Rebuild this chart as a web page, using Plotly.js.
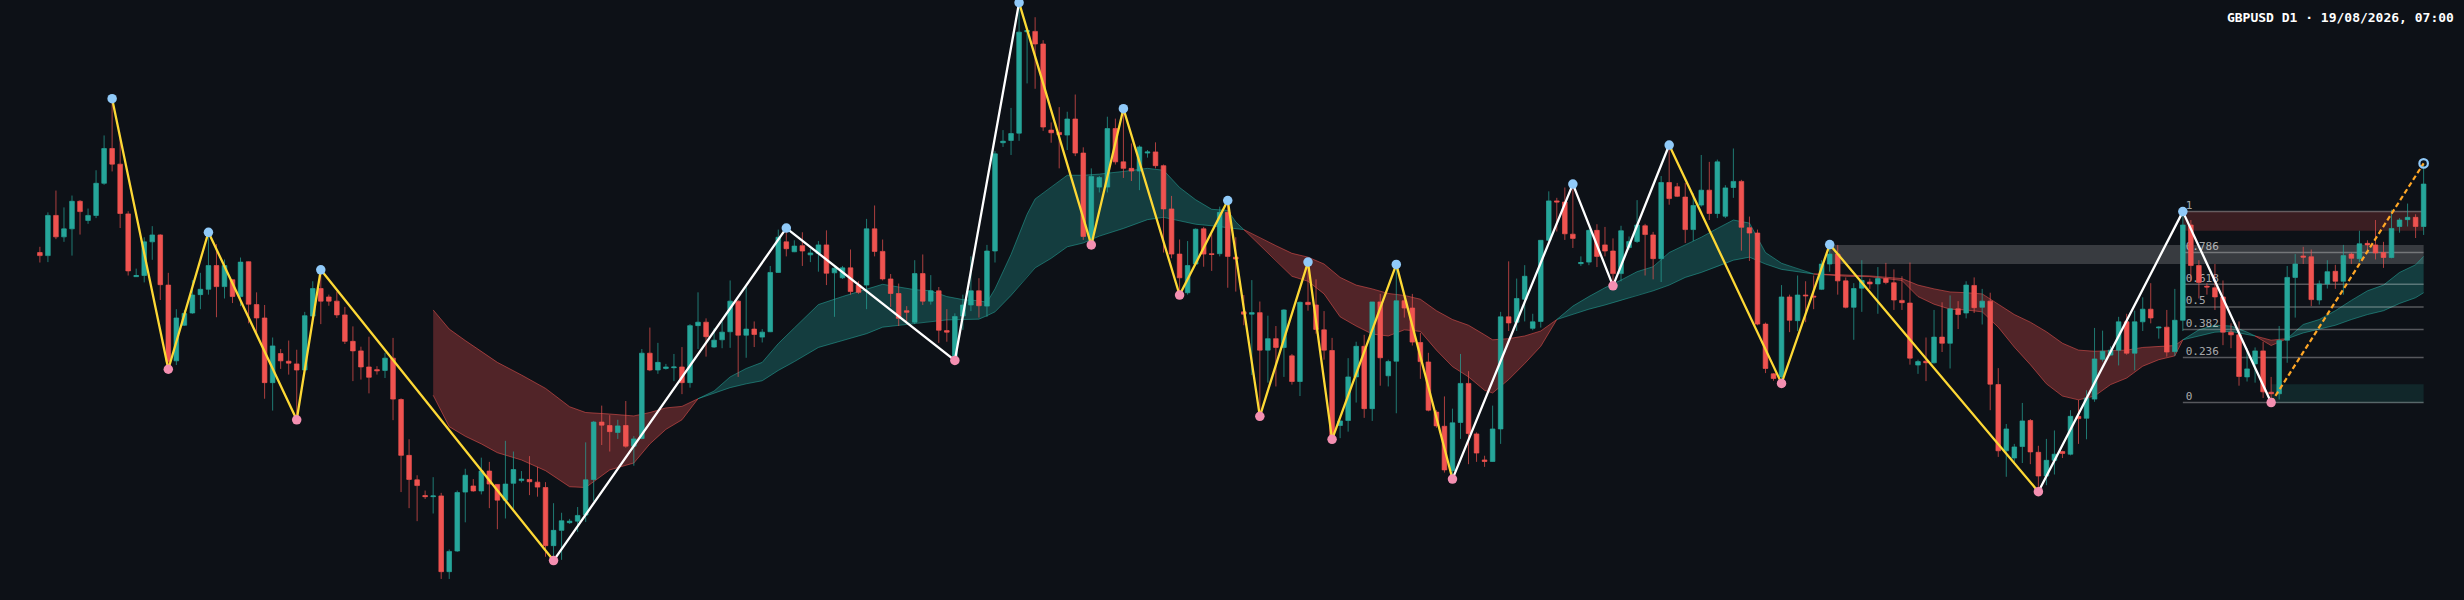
<!DOCTYPE html>
<html>
<head>
<meta charset="utf-8">
<script src="https://cdn.plot.ly/plotly-3.0.1.min.js"></script>
<style>html,body{margin:0;padding:0;background:#0d1117}</style>
</head>
<body>
<div id="chart" style="width:2464px;height:600px"></div>
<script>
/***** daily candles, prices in pips above an arbitrary base *****/
var openPrices = [
  908,900,1005,949,970,1042,992,1005,1089,1180,
  1139,1009,845,848,936,954,823,625,718,750,
  798,812,874,819,837,793,884,772,737,568,
  644,624,617,601,742,814,792,781,745,676,
  651,609,602,600,632,524,378,314,273,270,
  272,74,128,282,298,285,337,302,261,305,
  312,315,308,294,142,182,202,206,222,315,
  465,456,438,456,402,422,645,601,605,607,
  609,568,717,726,661,680,701,781,692,708,
  687,701,856,936,910,926,902,906,928,855,
  842,868,823,823,970,911,839,801,756,726,
  853,781,808,704,633,742,771,808,768,912,
  1195,1201,1220,1485,1486,1453,1228,1222,1215,1257,
  1168,938,1079,1079,1232,1145,1128,1121,1168,1171,
  1135,1022,904,803,878,970,905,905,1013,896,
  753,747,751,653,683,660,638,571,778,771,
  706,652,456,469,583,663,500,779,586,624,
  782,763,673,622,491,454,338,464,566,434,
  366,362,447,740,726,786,710,728,940,1043,
  1040,956,879,883,966,928,912,853,921,937,
  978,954,892,1091,1080,1053,968,1032,1071,1010,
  1003,1078,1094,973,959,721,591,583,792,730,
  797,794,812,878,904,834,765,815,831,826,
  840,829,783,776,614,624,620,687,671,761,
  750,822,765,781,563,390,371,401,469,386,
  324,365,388,381,480,475,525,629,640,653,
  727,645,727,760,711,713,649,731,980,874,
  820,816,792,700,693,583,617,651,543,539,
  679,843,899,897,784,826,859,833,904,892,
  932,928,908,895,976,994,1000,976
];
var highPrices = [
  923,1013,1070,1026,1057,1045,1023,1123,1214,1310,
  1208,1016,866,948,977,956,855,760,758,836,
  855,961,930,890,838,895,885,804,771,686,
  656,678,654,753,833,863,798,806,766,715,
  662,688,611,646,685,527,420,326,286,321,
  280,132,286,343,316,372,361,303,416,388,
  337,376,348,308,253,228,212,243,412,468,
  508,483,471,520,428,656,712,672,617,643,
  661,721,804,736,710,728,835,783,818,728,
  708,873,968,972,940,961,918,938,966,873,
  873,916,833,996,1031,942,852,827,768,888,
  903,849,818,760,749,798,898,841,928,1173,
  1228,1286,1561,1492,1523,1463,1248,1288,1276,1321,
  1183,1128,1108,1263,1258,1284,1193,1188,1176,1196,
  1138,1056,942,938,971,975,956,1028,1044,948,
  797,836,780,743,716,760,643,780,883,838,
  755,685,468,632,675,693,779,800,628,877,
  798,800,698,646,496,532,500,643,598,438,
  377,508,753,885,840,875,748,940,1068,1051,
  1078,1087,898,968,982,975,945,978,950,1045,
  983,962,1108,1189,1090,1090,1063,1163,1145,1151,
  1084,1180,1098,1002,968,725,593,823,798,848,
  833,848,888,929,928,843,828,888,840,870,
  881,864,846,882,628,686,758,778,796,781,
  833,843,813,803,606,460,408,515,473,403,
  421,443,390,496,523,548,711,704,663,740,
  748,756,791,828,715,758,813,1015,993,888,
  828,878,835,723,728,658,660,675,583,716,
  873,904,923,916,835,888,876,928,908,965,
  940,993,936,1020,998,1036,1008,1141
];
var lowPrices = [
  882,883,943,936,900,955,983,998,1085,1120,
  972,848,845,830,889,784,603,614,716,748,
  760,798,739,788,776,768,723,698,526,495,
  604,589,471,600,740,721,769,737,669,572,
  576,540,589,580,470,282,240,206,264,226,
  55,55,126,203,283,276,240,185,213,238,
  307,274,270,113,103,105,199,178,204,258,
  405,388,421,398,351,420,598,591,602,572,
  538,555,656,636,659,658,659,583,633,661,
  673,700,855,898,909,873,883,858,823,740,
  839,798,800,760,898,835,766,716,728,721,
  771,772,672,675,626,706,755,738,740,882,
  1184,1163,1200,1350,1336,1226,1195,1128,1176,1160,
  941,928,1065,1065,1138,1103,1095,1071,1156,1128,
  908,893,797,798,876,871,860,898,816,806,
  718,588,480,568,558,583,563,533,756,696,
  628,420,423,440,516,476,468,560,558,488,
  738,665,578,493,450,333,316,421,355,361,
  348,361,408,703,703,728,705,712,938,963,
  941,920,873,875,870,898,821,833,915,933,
  848,838,831,1033,1053,933,938,1028,993,998,
  998,1051,913,886,718,593,573,566,700,703,
  726,760,810,858,798,762,680,753,813,748,
  825,758,758,615,591,572,618,648,605,708,
  736,750,720,496,374,322,358,358,355,283,
  300,328,371,378,408,420,518,623,638,613,
  641,600,703,723,683,636,638,703,833,788,
  798,758,666,658,560,571,568,528,516,524,
  620,738,878,768,772,814,813,798,878,883,
  908,890,868,893,960,976,946,954
];
var closePrices = [
  900,1005,949,970,1042,1015,1005,1089,1180,1139,
  1010,860,848,936,954,824,623,737,749,797,
  812,874,819,874,793,883,773,737,568,664,
  625,619,601,743,814,781,781,745,676,651,
  609,582,599,632,525,378,315,299,270,272,
  74,127,281,326,285,337,303,261,303,341,
  316,309,295,142,182,207,206,221,314,465,
  457,440,455,402,421,645,601,621,609,609,
  568,717,726,688,679,700,781,692,708,694,
  700,856,948,918,925,912,907,928,854,867,
  868,806,804,970,911,839,801,736,752,853,
  781,808,705,700,741,771,808,769,912,1166,
  1199,1219,1484,1488,1453,1236,1221,1216,1257,1168,
  950,1107,1104,1232,1145,1128,1121,1184,1171,1135,
  1022,904,842,874,969,904,903,1013,898,891,
  747,751,653,683,660,758,571,778,772,707,
  653,428,468,583,663,500,779,633,623,782,
  763,674,623,496,455,340,463,566,435,384,
  362,447,740,724,788,846,727,940,1043,1040,
  957,945,882,966,898,912,853,965,937,980,
  955,892,1091,1049,1055,968,1031,1071,1010,1145,
  1077,1094,974,959,721,605,579,792,731,797,
  795,792,878,904,834,765,814,835,826,840,
  830,784,777,632,623,620,687,671,761,746,
  823,764,781,564,390,447,400,468,387,324,
  365,381,383,480,474,528,630,650,653,727,
  645,727,760,737,713,648,731,980,874,830,
  818,792,700,693,584,604,651,544,539,678,
  843,878,896,785,826,858,833,900,893,931,
  928,907,895,971,993,1000,976,1087
];

/***** moving average ribbon *****/
var bandBars = [
  49,51,53,55,57,60,63,66,68,71,74,76,78,80,82,
  84,86,88,90,92,94,97,100,103,105,107,109,111,113,115,117,118,119,121,123,124,126,128,130,132,135,138,140,142,144,146,148,149,150,
  152,154,156,158,160,162,164,166,168,170,172,174,176,178,180,181,183,185,187,189,
  191,193,195,197,199,201,203,205,207,209,211,213,215,217,219,221,
  225,228,232,234,236,238,240,242,244,246,248,250,252,254,256,258,260,262,264,266,267,
  269,271,273,275,276,
  278,280,
  282,284,286,288,290,292,294,296,297
];
var bandFast = [
  535,453,428,408,385,366,338,296,294,340,358,408,446,471,526,
  546,583,605,621,670,711,772,793,813,825,818,811,808,793,785,782,778,813,903,1008,1048,1078,1110,1110,1113,1120,1128,1123,1078,1046,1021,1018,988,968,
  928,888,846,833,800,740,716,695,690,706,702,653,610,583,548,541,576,618,663,733,
  768,793,816,836,858,871,908,928,948,971,993,985,908,880,865,852,
  846,845,835,793,773,760,758,753,713,661,615,565,533,523,533,563,580,611,628,638,680,
  706,718,716,700,690,
  665,683,
  720,733,756,783,808,823,856,876,898
];
var bandSlow = [
  758,708,678,650,621,588,553,505,490,486,481,490,502,506,526,
  540,555,565,573,600,623,660,678,696,713,718,723,728,732,733,734,743,753,796,846,868,893,923,933,951,971,994,1000,991,982,978,973,970,968,
  946,926,906,896,878,843,823,813,801,796,786,756,733,718,693,680,683,690,703,733,
  747,760,771,783,797,808,823,843,856,871,888,896,878,864,858,852,
  850,847,840,823,813,805,803,800,773,746,726,701,671,653,650,651,653,660,663,665,680,
  690,700,702,694,690,
  679,683,
  698,708,718,733,746,756,775,790,803
];

/***** zigzag legs, bar numbers of the swing points *****/
var yellowLegs = [[9,16,21,32,35,64],[122,131,135,142,148,152,158,161,169,176],[203,217,223,249]];
var whiteLegs = [[64,93,114,122],[176,191,196,203],[249,267,278]];
var projectedLeg = [278,297];
var swingHighs = [9,21,35,93,122,135,148,158,169,191,203,223,267];
var swingLows = [16,32,64,114,131,142,152,161,176,196,217,249,278];
var openSwing = [297];

/***** fibonacci levels and zones *****/
var fibLabels = ['0','0.236','0.382','0.5','0.618','0.786','1'];
var fibPrices = [516,634,707,766,825,908,1015];
var fibStart = 267;
var fibLabelBar = 267.35;
var fibEnd = 297;
var zoneStarts = [267,223,278];
var zoneBottoms = [965,878,515];
var zoneTops = [1015,928,564];
var zoneColors = ['rgba(239,83,80,0.2)','rgba(255,255,255,0.18)','rgba(38,166,154,0.15)'];

var bars = openPrices.map(function(v, i) { return i; });
var data = [];

// ribbon pieces, split where the two averages touch
function addBandPiece(from, to) {
  var xs = bandBars.slice(from, to + 1);
  var fast = bandFast.slice(from, to + 1);
  var slow = bandSlow.slice(from, to + 1);
  var up = fast[1] > slow[1];
  var edge = up ? 'rgba(38,166,154,0.55)' : 'rgba(239,83,80,0.55)';
  data.push({
    x: xs.concat(xs.slice().reverse()),
    y: fast.concat(slow.slice().reverse()),
    type: 'scatter',
    mode: 'none',
    fill: 'toself',
    fillcolor: up ? 'rgba(38,166,154,0.3)' : 'rgba(239,83,80,0.3)',
    hoverinfo: 'skip',
    zorder: 0
  });
  [fast, slow].forEach(function(ys) {
    data.push({
      x: xs,
      y: ys,
      type: 'scatter',
      mode: 'lines',
      line: {color: edge, width: 1},
      hoverinfo: 'skip',
      zorder: 0
    });
  });
}
var pieceStart = 0;
for (var b = 1; b < bandBars.length; b++) {
  if (bandFast[b] === bandSlow[b] || b === bandBars.length - 1) {
    addBandPiece(pieceStart, b);
    pieceStart = b;
  }
}

fibPrices.forEach(function(price) {
  data.push({
    x: [fibStart, fibEnd],
    y: [price, price],
    type: 'scatter',
    mode: 'lines',
    line: {color: 'rgba(255,255,255,0.3)', width: 1.5},
    hoverinfo: 'skip',
    zorder: 0
  });
});

data.push({
  x: fibPrices.map(function() { return fibLabelBar; }),
  y: fibPrices,
  text: fibLabels,
  type: 'scatter',
  mode: 'text',
  textposition: 'top right',
  textfont: {family: 'DejaVu Sans Mono', size: 11, color: 'rgba(255,255,255,0.65)'},
  hoverinfo: 'skip',
  zorder: 0
});

data.push({
  x: bars,
  open: openPrices,
  high: highPrices,
  low: lowPrices,
  close: closePrices,
  type: 'candlestick',
  whiskerwidth: 0,
  increasing: {line: {color: 'rgba(38,166,154,0.7)', width: 1}, fillcolor: '#26a69a'},
  decreasing: {line: {color: 'rgba(239,83,80,0.7)', width: 1}, fillcolor: '#ef5350'},
  zorder: 1
});

function legPrices(leg) {
  return leg.map(function(bar) {
    var isHigh = swingHighs.indexOf(bar) >= 0 || openSwing.indexOf(bar) >= 0;
    return isHigh ? highPrices[bar] : lowPrices[bar];
  });
}
function addLeg(leg, color, dash, width) {
  data.push({
    x: leg,
    y: legPrices(leg),
    type: 'scatter',
    mode: 'lines',
    line: {color: color, width: width, dash: dash},
    hoverinfo: 'skip',
    zorder: 2
  });
}
yellowLegs.forEach(function(leg) { addLeg(leg, '#fdd835', 'solid', 2.3); });
whiteLegs.forEach(function(leg) { addLeg(leg, '#ffffff', 'solid', 2.3); });
addLeg(projectedLeg, '#ffa726', '5px,3px', 2.2);

function addSwings(list, symbol, size, color, lineWidth) {
  data.push({
    x: list,
    y: legPrices(list),
    type: 'scatter',
    mode: 'markers',
    marker: {symbol: symbol, size: size, color: color, line: {width: lineWidth, color: color}},
    cliponaxis: false,
    hoverinfo: 'skip',
    zorder: 3
  });
}
addSwings(swingHighs, 'circle', 9.5, '#90caf9', 0);
addSwings(swingLows, 'circle', 9.5, '#f48fb1', 0);
addSwings(openSwing, 'circle-open', 8.5, '#90caf9', 2.2);

var shapes = zoneStarts.map(function(start, i) {
  return {
    type: 'rect',
    layer: 'below',
    xref: 'x',
    yref: 'y',
    x0: start,
    x1: fibEnd,
    y0: zoneBottoms[i],
    y1: zoneTops[i],
    fillcolor: zoneColors[i],
    line: {width: 0}
  };
});

var layout = {
  width: 2464,
  height: 600,
  margin: {l: 0, r: 0, t: 0, b: 0},
  paper_bgcolor: '#0d1117',
  plot_bgcolor: '#0d1117',
  showlegend: false,
  boxgap: 0.18,
  title: {
    text: '<b>GBPUSD D1 · 19/08/2026, 07:00</b>',
    x: 0.9959,
    xanchor: 'right',
    y: 0.9707,
    yanchor: 'middle',
    font: {family: 'DejaVu Sans Mono', size: 13, color: '#ffffff'}
  },
  xaxis: {type: 'linear', range: [-4.97, 302.03], visible: false, showgrid: false, zeroline: false, rangeslider: {visible: false}},
  yaxis: {range: [0, 1568], visible: false, showgrid: false, zeroline: false},
  shapes: shapes
};

var config = {displayModeBar: false, staticPlot: true};
Plotly.newPlot('chart', data, layout, config);
</script>
</body>
</html>
